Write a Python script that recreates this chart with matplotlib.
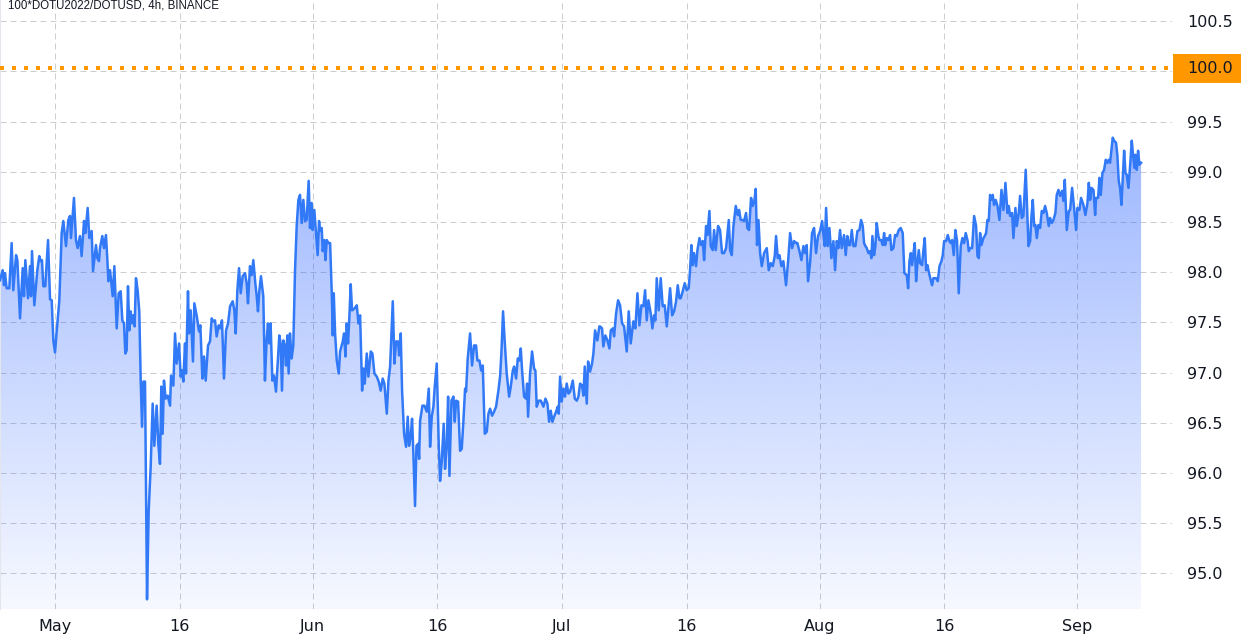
import numpy as np
import pandas as pd
import matplotlib
matplotlib.use("Agg")
import matplotlib.pyplot as plt
import matplotlib.dates as mdates
from matplotlib.transforms import blended_transform_factory
from matplotlib.patches import Rectangle
from matplotlib.text import Text

# ---------------- data ----------------
TITLE = "100*DOTU2022/DOTUSD, 4h, BINANCE"
BASE_DATE = "2022-05-01"          # day offsets below are counted from this date

# late April - end of May
days_may = [
    -6.62, -6.30, -6.14, -6.02, -5.82, -5.50, -5.22, -5.02, -4.69, -4.53,
    -4.21, -3.89, -3.73, -3.57, -3.25, -3.01, -2.89, -2.77, -2.49, -2.13,
    -1.89, -1.73, -1.57, -1.41, -1.17, -0.84, -0.60, -0.40, -0.20, 0.00,
    0.20, 0.52, 0.80, 1.00, 1.32, 1.60, 1.80, 1.92, 2.28, 2.52,
    2.72, 3.00, 3.20, 3.49, 3.65, 3.93, 4.13, 4.41, 4.57, 4.93,
    5.09, 5.29, 5.41, 5.69, 5.89, 6.13, 6.30, 6.42, 6.62, 6.94,
    7.14, 7.42, 7.66, 7.90, 8.10, 8.30, 8.46, 8.62, 8.78, 8.94,
    9.10, 9.26, 9.42, 9.58, 9.74, 9.94, 10.14, 10.31, 10.47, 10.63,
    10.83, 11.07, 11.27, 11.51, 11.75, 11.95, 12.23, 12.43, 12.63, 12.79,
    12.95, 13.11, 13.31, 13.56, 13.84, 13.96, 14.24, 14.44, 14.64, 14.92,
    15.12, 15.28, 15.44, 15.64, 15.76, 16.00, 16.12, 16.32, 16.60, 16.76,
    17.04, 17.33, 17.49, 17.73, 17.93, 18.13, 18.41, 18.65, 18.85, 19.05,
    19.25, 19.45, 19.69, 19.85, 20.09, 20.33, 20.58, 20.82, 21.06, 21.38,
    21.58, 21.74, 21.94, 22.14, 22.34, 22.58, 22.86, 23.06, 23.22, 23.46,
    23.66, 23.86, 24.10, 24.26, 24.42, 24.58, 24.78, 25.06, 25.26, 25.46,
    25.62, 25.78, 25.94, 26.15, 26.35, 26.59, 26.79, 26.99, 27.15, 27.31,
    27.47, 27.67, 27.79, 27.95, 28.11, 28.27, 28.47, 28.67, 28.88, 29.08,
    29.28, 29.48, 29.68, 29.88, 30.08, 30.28, 30.52, 30.68, 30.88, 31.00,
    31.20, 31.40, 31.60, 31.77,
]
price_may = [
    97.92, 98.02, 97.87, 97.99, 97.84, 97.84, 98.29, 97.82, 98.17, 98.12,
    97.54, 98.04, 97.76, 98.12, 97.74, 98.06, 97.76, 98.21, 97.67, 98.02,
    98.16, 98.11, 98.12, 97.86, 97.86, 98.32, 97.73, 97.72, 97.32, 97.20,
    97.41, 97.72, 98.39, 98.51, 98.26, 98.52, 98.56, 98.34, 98.74, 98.32,
    98.24, 98.36, 98.16, 98.51, 98.39, 98.64, 98.34, 98.41, 98.01, 98.27,
    98.14, 98.11, 98.24, 98.36, 98.24, 98.37, 98.12, 97.91, 98.02, 97.76,
    98.06, 97.44, 97.79, 97.81, 97.52, 97.49, 97.19, 97.22, 97.86, 97.42,
    97.61, 97.49, 97.57, 97.46, 97.94, 97.82, 97.61, 96.92, 96.46, 96.91,
    96.91, 94.74, 95.62, 96.06, 96.69, 96.27, 96.67, 96.29, 96.09, 96.86,
    96.39, 96.92, 96.74, 96.77, 96.67, 96.97, 96.87, 97.39, 97.09, 97.29,
    96.96, 97.02, 96.91, 97.29, 96.99, 97.81, 97.39, 97.62, 97.11, 97.69,
    97.57, 97.41, 97.47, 96.94, 97.16, 96.92, 97.27, 97.31, 97.54, 97.51,
    97.52, 97.36, 97.47, 97.44, 97.52, 96.94, 97.42, 97.49, 97.66, 97.71,
    97.62, 97.39, 97.82, 98.04, 97.79, 97.96, 97.99, 97.89, 97.69, 98.06,
    97.97, 98.12, 97.89, 97.77, 97.61, 97.81, 97.96, 97.76, 96.92, 97.32,
    97.49, 97.29, 97.49, 96.92, 96.97, 96.81, 97.09, 97.37, 97.29, 96.82,
    97.32, 97.26, 97.07, 97.37, 96.99, 97.39, 97.14, 97.27, 98.02, 98.46,
    98.72, 98.77, 98.49, 98.72, 98.51, 98.52, 98.91, 98.44, 98.69, 98.42,
    98.62, 98.39, 98.17, 98.51,
]

# June - early July
days_jun = [
    31.89, 32.09, 32.21, 32.41, 32.53, 32.70, 32.90, 33.10, 33.30, 33.42,
    33.54, 33.70, 33.90, 34.14, 34.30, 34.62, 34.78, 34.94, 35.10, 35.26,
    35.42, 35.58, 35.74, 36.06, 36.31, 36.51, 36.71, 36.95, 37.11, 37.27,
    37.51, 37.71, 37.99, 38.19, 38.43, 38.71, 38.95, 39.19, 39.43, 39.63,
    39.92, 40.12, 40.32, 40.64, 40.84, 41.04, 41.28, 41.40, 41.60, 41.76,
    42.00, 42.24, 42.44, 42.60, 42.80, 42.96, 43.12, 43.32, 43.49, 43.69,
    43.81, 43.93, 44.21, 44.45, 44.73, 44.97, 45.13, 45.33, 45.53, 45.69,
    45.93, 46.17, 46.33, 46.53, 46.77, 46.93, 47.14, 47.30, 47.46, 47.70,
    47.94, 48.10, 48.26, 48.50, 48.74, 48.94, 49.14, 49.34, 49.46, 49.66,
    49.94, 50.18, 50.42, 50.66, 50.82, 51.07, 51.27, 51.47, 51.71, 51.95,
    52.15, 52.35, 52.59, 52.83, 53.07, 53.35, 53.55, 53.71, 53.91, 54.11,
    54.35, 54.64, 54.84, 55.08, 55.24, 55.48, 55.68, 55.88, 56.04, 56.20,
    56.44, 56.68, 56.80, 56.92, 57.16, 57.40, 57.64, 57.80, 57.96, 58.21,
    58.45, 58.77, 59.01, 59.25, 59.45, 59.65, 59.85, 60.05, 60.29, 60.49,
    60.61, 60.77, 60.97, 61.17, 61.37, 61.57, 61.78, 61.98, 62.30, 62.54,
    62.78, 62.98, 63.18, 63.42, 63.58, 63.74, 63.98, 64.14, 64.38, 64.62,
    64.78, 64.98, 65.26, 65.50,
]
price_jun = [
    98.41, 98.44, 98.21, 98.32, 98.12, 98.32, 98.29, 98.29, 97.79, 97.37,
    97.79, 97.39, 97.12, 96.99, 97.21, 97.31, 97.39, 97.16, 97.49, 97.29,
    97.56, 97.88, 97.62, 97.64, 97.67, 97.49, 97.57, 96.82, 97.04, 96.89,
    97.19, 96.96, 97.21, 97.19, 96.99, 96.96, 96.91, 96.82, 96.94, 96.89,
    96.59, 96.92, 97.06, 97.71, 97.09, 97.31, 97.31, 97.17, 97.39, 96.82,
    96.39, 96.26, 96.56, 96.27, 96.36, 96.54, 96.19, 95.67, 96.27, 96.29,
    96.14, 96.52, 96.67, 96.67, 96.61, 96.84, 96.26, 96.56, 96.66, 96.86,
    97.09, 96.29, 95.92, 96.11, 96.49, 96.04, 96.29, 96.76, 95.97, 96.72,
    96.76, 96.51, 96.72, 96.71, 96.22, 96.24, 96.52, 96.84, 96.81, 97.14,
    97.39, 97.07, 97.27, 97.27, 97.12, 97.12, 97.02, 97.07, 96.39, 96.41,
    96.59, 96.64, 96.57, 96.61, 96.66, 96.82, 96.96, 97.19, 97.61, 97.31,
    96.99, 96.76, 96.86, 97.02, 97.06, 96.94, 97.14, 97.12, 97.24, 97.02,
    96.76, 96.74, 96.89, 96.56, 96.99, 97.21, 97.04, 97.02, 96.66, 96.72,
    96.72, 96.66, 96.74, 96.69, 96.51, 96.62, 96.51, 96.56, 96.61, 96.66,
    96.59, 96.96, 96.71, 96.84, 96.76, 96.89, 96.79, 96.81, 96.92, 96.74,
    96.72, 96.76, 96.89, 96.87, 96.77, 97.06, 96.69, 97.11, 97.01, 97.09,
    97.19, 97.42, 97.32, 97.46,
]

# July - early August
days_jul = [
    65.58, 65.82, 65.98, 66.22, 66.47, 66.71, 66.87, 67.11, 67.27, 67.51,
    67.75, 67.99, 68.23, 68.47, 68.79, 69.03, 69.27, 69.59, 69.83, 70.08,
    70.32, 70.56, 70.80, 71.00, 71.20, 71.40, 71.68, 71.88, 72.08, 72.24,
    72.40, 72.64, 72.88, 73.12, 73.36, 73.61, 73.85, 74.01, 74.25, 74.49,
    74.73, 74.93, 75.13, 75.29, 75.53, 75.77, 76.01, 76.25, 76.41, 76.57,
    76.73, 76.89, 77.13, 77.30, 77.54, 77.74, 77.94, 78.10, 78.34, 78.50,
    78.74, 78.90, 79.14, 79.30, 79.50, 79.78, 80.02, 80.26, 80.50, 80.74,
    81.07, 81.23, 81.43, 81.63, 81.91, 82.15, 82.31, 82.51, 82.75, 82.91,
    83.15, 83.31, 83.51, 83.75, 83.95, 84.15, 84.31, 84.47, 84.64, 84.84,
    85.04, 85.32, 85.64, 85.88, 86.12, 86.36, 86.60, 86.76, 86.96, 87.16,
    87.40, 87.64, 87.96, 88.21, 88.45, 88.69, 88.93, 89.17, 89.33, 89.57,
    89.81, 90.05, 90.25, 90.45, 90.61, 90.85, 91.09, 91.33, 91.57, 91.81,
    92.06, 92.30, 92.46, 92.62, 92.78, 92.98, 93.18, 93.42, 93.66, 93.86,
    94.06, 94.26, 94.46, 94.66, 94.94, 95.14, 95.34, 95.50, 95.67, 95.87,
    96.07, 96.31, 96.55, 96.79, 96.99, 97.19, 97.35, 97.51, 97.67, 97.87,
    98.07, 98.23, 98.35, 98.55, 98.71, 98.87, 99.07,
]
price_jul = [
    97.46, 97.44, 97.26, 97.37, 97.32, 97.24, 97.42, 97.44, 97.36, 97.59,
    97.72, 97.67, 97.49, 97.46, 97.21, 97.61, 97.29, 97.51, 97.44, 97.79,
    97.47, 97.67, 97.66, 97.82, 97.52, 97.72, 97.59, 97.44, 97.57, 97.52,
    97.94, 97.62, 97.94, 97.66, 97.67, 97.46, 97.69, 97.84, 97.57, 97.61,
    97.71, 97.87, 97.74, 97.74, 97.81, 97.89, 97.82, 97.84, 98.02, 98.27,
    98.07, 98.19, 98.06, 98.22, 98.34, 98.27, 98.31, 98.12, 98.46, 98.37,
    98.61, 98.26, 98.22, 98.42, 98.22, 98.46, 98.42, 98.19, 98.19, 98.24,
    98.52, 98.22, 98.17, 98.46, 98.66, 98.57, 98.62, 98.52, 98.52, 98.51,
    98.59, 98.44, 98.42, 98.74, 98.66, 98.71, 98.83, 98.27, 98.52, 98.19,
    98.06, 98.19, 98.24, 98.02, 98.09, 98.06, 98.16, 98.36, 98.14, 98.17,
    98.06, 98.11, 97.87, 98.11, 98.39, 98.24, 98.31, 98.29, 98.29, 98.21,
    98.12, 98.26, 98.19, 98.27, 97.91, 98.09, 98.39, 98.44, 98.19, 98.36,
    98.41, 98.51, 98.37, 98.26, 98.64, 98.26, 98.44, 98.14, 98.31, 98.02,
    98.31, 98.24, 98.42, 98.24, 98.37, 98.17, 98.36, 98.27, 98.27, 98.42,
    98.26, 98.26, 98.41, 98.42, 98.52, 98.46, 98.29, 98.26, 98.24, 98.19,
    98.21, 98.14, 98.36, 98.17, 98.26, 98.49, 98.36,
]

# August - September
days_aug = [
    99.20, 99.40, 99.60, 99.76, 99.88, 100.08, 100.28, 100.48, 100.64, 100.88,
    101.08, 101.28, 101.52, 101.76, 102.00, 102.20, 102.49, 102.65, 102.81, 102.97,
    103.13, 103.29, 103.45, 103.61, 103.77, 103.93, 104.09, 104.33, 104.49, 104.65,
    104.81, 104.97, 105.17, 105.37, 105.53, 105.69, 106.01, 106.22, 106.42, 106.66,
    106.82, 106.98, 107.22, 107.42, 107.62, 107.78, 107.94, 108.14, 108.34, 108.54,
    108.74, 108.98, 109.18, 109.38, 109.58, 109.79, 109.95, 110.11, 110.35, 110.59,
    110.83, 110.99, 111.15, 111.31, 111.47, 111.71, 111.87, 112.03, 112.19, 112.35,
    112.51, 112.67, 112.83, 112.99, 113.19, 113.40, 113.64, 113.88, 114.12, 114.36,
    114.60, 114.76, 114.92, 115.16, 115.32, 115.56, 115.72, 115.96, 116.12, 116.32,
    116.52, 116.80, 116.96, 117.13, 117.33, 117.49, 117.65, 117.81, 117.97, 118.13,
    118.33, 118.53, 118.73, 118.93, 119.13, 119.33, 119.57, 119.73, 119.93, 120.13,
    120.37, 120.53, 120.74, 120.94, 121.18, 121.34, 121.50, 121.74, 121.98, 122.14,
    122.38, 122.62, 122.86, 123.02, 123.26, 123.46, 123.74, 123.98, 124.23, 124.39,
    124.55, 124.71, 124.95, 125.15, 125.27, 125.51, 125.67, 125.83, 126.03, 126.23,
    126.43, 126.63, 126.79, 126.95, 127.11, 127.27, 127.43, 127.67, 127.83, 127.99,
    128.15, 128.32, 128.48, 128.64, 128.80, 128.96, 129.16, 129.36, 129.56, 129.72,
    129.88, 130.00, 130.16, 130.32, 130.48, 130.68,
]
price_aug = [
    98.32, 98.32, 98.27, 98.39, 98.27, 98.34, 98.32, 98.37, 98.22, 98.24,
    98.37, 98.36, 98.42, 98.44, 98.39, 97.99, 97.97, 97.84, 98.11, 98.19,
    98.07, 98.19, 98.29, 97.91, 98.09, 98.22, 98.09, 98.07, 98.22, 98.34,
    98.02, 98.07, 97.99, 97.92, 97.87, 97.94, 97.94, 97.91, 98.06, 98.11,
    98.17, 98.31, 98.31, 98.37, 98.31, 98.29, 98.32, 98.17, 98.42, 98.31,
    97.79, 98.26, 98.34, 98.29, 98.39, 98.32, 98.21, 98.24, 98.24, 98.56,
    98.46, 98.16, 98.14, 98.39, 98.27, 98.34, 98.36, 98.39, 98.52, 98.51,
    98.77, 98.72, 98.77, 98.67, 98.72, 98.66, 98.52, 98.82, 98.62, 98.89,
    98.59, 98.66, 98.56, 98.59, 98.34, 98.64, 98.46, 98.59, 98.76, 98.54,
    98.56, 99.02, 98.66, 98.26, 98.31, 98.56, 98.72, 98.46, 98.47, 98.34,
    98.47, 98.44, 98.61, 98.59, 98.66, 98.59, 98.46, 98.54, 98.49, 98.52,
    98.59, 98.77, 98.82, 98.76, 98.81, 98.71, 98.92, 98.42, 98.61, 98.62,
    98.84, 98.64, 98.42, 98.64, 98.62, 98.74, 98.67, 98.57, 98.69, 98.89,
    98.72, 98.84, 98.82, 98.57, 98.74, 98.74, 98.94, 98.77, 98.99, 99.02,
    99.12, 99.09, 99.12, 99.09, 99.21, 99.34, 99.31, 99.29, 99.16, 98.91,
    98.84, 98.67, 98.94, 99.21, 98.99, 98.97, 98.84, 99.06, 99.31, 99.16,
    99.04, 99.17, 99.02, 99.21, 99.07, 99.09,
]

ref_level = 100.03       # orange reference line
ref_label = "100.0"

tick_dates = ["2022-05-01", "2022-05-16", "2022-06-01", "2022-06-16", "2022-07-01",
              "2022-07-16", "2022-08-01", "2022-08-16", "2022-09-01"]
tick_labels = ["May", "16", "Jun", "16", "Jul", "16", "Aug", "16", "Sep"]
y_ticks = [95.0, 95.5, 96.0, 96.5, 97.0, 97.5, 98.0, 98.5, 99.0, 99.5, 100.0, 100.5]

# ---------------- build series ----------------
segments = [(days_may, price_may), (days_jun, price_jun),
            (days_jul, price_jul), (days_aug, price_aug)]
for d, p in segments:
    assert len(d) == len(p), (len(d), len(p))
days = np.concatenate([np.asarray(d, float) for d, _ in segments])
prices = np.concatenate([np.asarray(p, float) for _, p in segments])

base_num = mdates.date2num(pd.Timestamp(BASE_DATE))
x = base_num + days

# ---------------- figure ----------------
W, H = 1241, 640
fig = plt.figure(figsize=(W / 100, H / 100), dpi=100)
fig.patch.set_facecolor("white")
plot_right_px, plot_bottom_px = 1172, 609
ax = fig.add_axes([0, (H - plot_bottom_px) / H, plot_right_px / W, plot_bottom_px / H])
ax.set_facecolor("white")

x_lo, x_hi = base_num - 6.62, base_num + 134.4
y_lo, y_hi = 94.644, 100.712
ax.set_xlim(x_lo, x_hi)
ax.set_ylim(y_lo, y_hi)

# gradient area fill
line_rgb = np.array([41, 98, 255]) / 255.0
n = 256
alpha = np.linspace(0.46, 0.04, n)          # top -> bottom
grad = np.zeros((n, 1, 4))
grad[:, 0, :3] = line_rgb
grad[:, 0, 3] = alpha
y_top = prices.max()
poly = ax.fill_between(x, prices, y_lo, facecolor="none", edgecolor="none")
im = ax.imshow(grad, extent=[x[0], x[-1], y_lo, y_top], aspect="auto",
               origin="upper", zorder=1, interpolation="bilinear")
im.set_clip_path(poly.get_paths()[0], transform=ax.transData)

ax.plot(x, prices, color="#3179f6", lw=1.8, solid_joinstyle="round", zorder=3)

# grid
grid_kw = dict(color="#cdcdcd", lw=0.72, linestyle=(0, (6, 4)), zorder=0.5)
for td in tick_dates:
    ax.axvline(mdates.date2num(pd.Timestamp(td)), **grid_kw)
for yt in y_ticks:
    ax.axhline(yt, **grid_kw)

# orange reference line
ax.axhline(ref_level, color="#ff9800", lw=2.88, linestyle=(0, (1, 2)),
           dash_capstyle="butt", zorder=4)

# axes / ticks
for s in ax.spines.values():
    s.set_visible(False)
ax.spines["left"].set_visible(True)
ax.spines["left"].set_color("#e3e6ec")
ax.spines["left"].set_linewidth(0.8)

ax.set_xticks([mdates.date2num(pd.Timestamp(t)) for t in tick_dates])
ax.set_xticklabels(tick_labels)
ax.yaxis.tick_right()
ax.set_yticks(y_ticks)
ax.set_yticklabels(["" if abs(v - 100.0) < 1e-9 else f"{v:.1f}" for v in y_ticks])
ax.tick_params(axis="x", length=0, pad=7.5, labelsize=11.5, labelcolor="#131722")
ax.tick_params(axis="y", length=0, pad=10.8, labelsize=11.5, labelcolor="#131722")
for lab in ax.get_yticklabels():
    lab.set_horizontalalignment("left")

# orange price box
tr = blended_transform_factory(fig.transFigure, ax.transData)
box_h = 29 / (plot_bottom_px / (y_hi - y_lo))
rect = Rectangle((1172.7 / W, ref_level - box_h / 2), 1 - 1172.7 / W, box_h,
                 transform=tr, facecolor="#ff9800", edgecolor="none")
fig.add_artist(rect)
fig.add_artist(Text(1187.5 / W, ref_level, ref_label, transform=tr,
                    fontsize=11.5, color="#131722", ha="left", va="center"))

# title
fig.text(8 / W, 1 - 9 / H, TITLE, fontsize=8.3, family="Liberation Sans",
         color="#131722", ha="left", va="baseline")

fig.savefig("out.png", dpi=100)
